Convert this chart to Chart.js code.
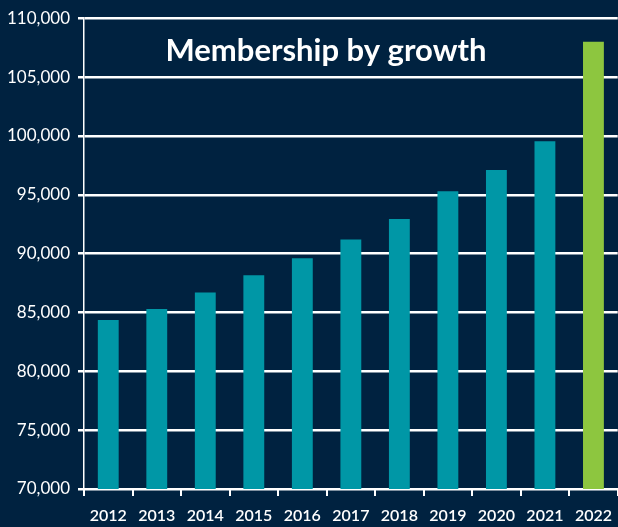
<!DOCTYPE html>
<html>
<head>
<meta charset="utf-8">
<script src="https://cdn.jsdelivr.net/npm/chart.js@4"></script>
<style>
  html, body { margin: 0; padding: 0; background: #002240; overflow: hidden; }
  #wrap { width: 622px; height: 527px; }
</style>
</head>
<body>
<div id="wrap"><canvas id="chart"></canvas></div>
<script>
const years = ['2012', '2013', '2014', '2015', '2016', '2017', '2018', '2019', '2020', '2021', '2022']
const members = [84350, 85300, 86700, 88150, 89600, 91200, 92950, 95300, 97100, 99550, 108000]
const barColors = ['#0097a6', '#0097a6', '#0097a6', '#0097a6', '#0097a6', '#0097a6', '#0097a6', '#0097a6', '#0097a6', '#0097a6', '#8dc63f']
const chartTitle = 'Membership by growth'

const fontFamily = 'Lato, "Open Sans", sans-serif'

// title sits inside the plot area, over the grid
const titleInside = {
  id: 'titleInside',
  afterDatasetsDraw(chart) {
    const { ctx, chartArea } = chart
    ctx.save()
    ctx.fillStyle = '#ffffff'
    ctx.font = 'bold 31px ' + fontFamily
    ctx.textAlign = 'center'
    ctx.textBaseline = 'middle'
    ctx.fillText(chartTitle, chartArea.left + 242, chartArea.top + 33)
    ctx.restore()
  }
}

new Chart(document.getElementById('chart'), {
  type: 'bar',
  data: {
    labels: years,
    datasets: [{
      data: members,
      backgroundColor: barColors,
      barPercentage: 0.43,
      categoryPercentage: 1
    }]
  },
  options: {
    responsive: true,
    maintainAspectRatio: false,
    animation: false,
    layout: { padding: { top: 12, right: 0, left: 0, bottom: 0 } },
    scales: {
      x: {
        offset: true,
        grid: {
          offset: true,
          drawOnChartArea: false,
          color: '#ffffff',
          lineWidth: 2,
          tickLength: 7
        },
        border: { color: '#ffffff', width: 2 },
        ticks: {
          color: '#ffffff',
          font: { family: fontFamily, size: 16, weight: '600' },
          padding: 10,
          maxRotation: 0
        },
        afterFit(scale) { scale.height = 38 }
      },
      y: {
        min: 70000,
        max: 110000,
        grid: {
          color: '#ffffff',
          lineWidth: 2.5,
          tickLength: 6
        },
        border: { color: '#ffffff', width: 1.5 },
        ticks: {
          stepSize: 5000,
          color: '#ffffff',
          font: { family: fontFamily, size: 17 },
          padding: 8,
          callback: val => val.toLocaleString('en-US')
        },
        afterFit(scale) { scale.width = 84 }
      }
    },
    plugins: {
      legend: { display: false },
      tooltip: { enabled: false }
    }
  },
  plugins: [titleInside]
})
</script>
</body>
</html>
